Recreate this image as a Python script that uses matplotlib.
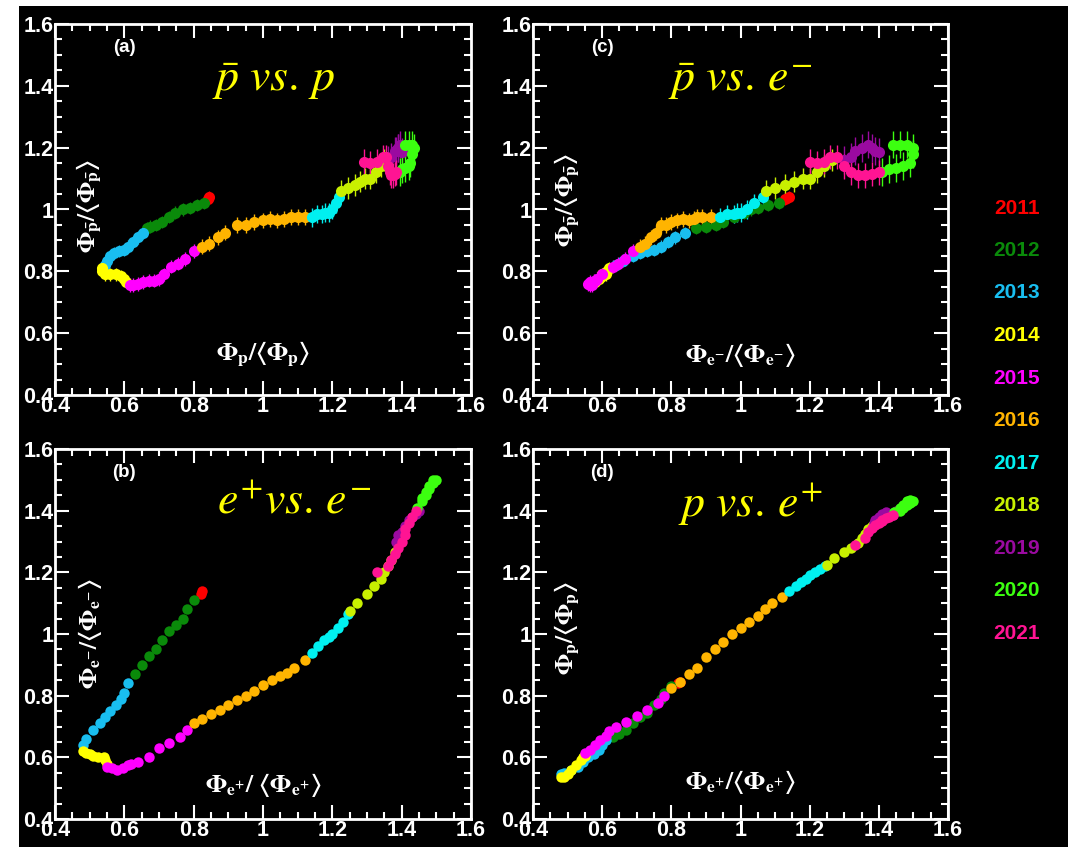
import numpy as np
import matplotlib
matplotlib.use("Agg")
import matplotlib.pyplot as plt
from matplotlib.patches import Rectangle
from matplotlib.ticker import MultipleLocator, FuncFormatter

plt.rcParams['font.family'] = ['Liberation Sans', 'DejaVu Sans']
plt.rcParams['mathtext.fontset'] = 'stix'

years = ['2011', '2012', '2013', '2014', '2015', '2016',
         '2017', '2018', '2019', '2020', '2021']
colors = ['#ff0000', '#0a8a0a', '#19bef0', '#ffff00', '#ff00ff', '#ffb400',
          '#00f0f0', '#c8f000', '#9a0aa0', '#3cff10', '#ff1493']

# normalised fluxes, time ordered inside each year
p_flux = [
    [0.845, 0.84],
    [0.83, 0.81, 0.79, 0.77, 0.745, 0.73, 0.71, 0.69, 0.675, 0.665],
    [0.655, 0.64, 0.625, 0.61, 0.60, 0.585, 0.57, 0.56, 0.55, 0.545],
    [0.535, 0.535, 0.545, 0.56, 0.575, 0.59, 0.60, 0.605],
    [0.615, 0.625, 0.64, 0.655, 0.67, 0.685, 0.70, 0.715, 0.735, 0.755, 0.775, 0.80],
    [0.825, 0.845, 0.87, 0.89, 0.925, 0.95, 0.975, 1.0, 1.02, 1.04, 1.06, 1.08, 1.10, 1.12],
    [1.14, 1.155, 1.17, 1.18, 1.19, 1.20, 1.21, 1.22],
    [1.225, 1.245, 1.265, 1.28, 1.295, 1.31, 1.325, 1.34, 1.35],
    [1.36, 1.37, 1.38, 1.39, 1.395, 1.39, 1.385, 1.40],
    [1.41, 1.42, 1.43, 1.435, 1.43, 1.425, 1.42, 1.41, 1.40, 1.395],
    [1.385, 1.38, 1.375, 1.37, 1.365, 1.36, 1.355, 1.345, 1.33, 1.31, 1.29],
]
pbar_flux = [
    [1.04, 1.035],
    [1.02, 1.015, 1.005, 1.0, 0.99, 0.975, 0.96, 0.95, 0.945, 0.94],
    [0.925, 0.91, 0.895, 0.88, 0.87, 0.865, 0.86, 0.85, 0.835, 0.82],
    [0.81, 0.80, 0.79, 0.79, 0.79, 0.785, 0.775, 0.765],
    [0.755, 0.755, 0.76, 0.765, 0.77, 0.77, 0.775, 0.79, 0.815, 0.825, 0.84, 0.865],
    [0.88, 0.89, 0.91, 0.925, 0.95, 0.95, 0.96, 0.965, 0.97, 0.965, 0.97, 0.975, 0.975, 0.975],
    [0.975, 0.985, 0.985, 0.99, 0.99, 1.0, 1.02, 1.04],
    [1.06, 1.07, 1.08, 1.09, 1.10, 1.10, 1.12, 1.14, 1.16],
    [1.16, 1.17, 1.19, 1.20, 1.21, 1.20, 1.19, 1.185],
    [1.21, 1.21, 1.21, 1.20, 1.18, 1.15, 1.14, 1.135, 1.13, 1.12],
    [1.12, 1.115, 1.11, 1.11, 1.12, 1.14, 1.17, 1.17, 1.155, 1.15, 1.155],
]
ep_flux = [
    [0.825, 0.82],
    [0.80, 0.78, 0.77, 0.75, 0.73, 0.71, 0.69, 0.67, 0.65, 0.63],
    [0.61, 0.60, 0.59, 0.575, 0.56, 0.545, 0.53, 0.51, 0.49, 0.48],
    [0.48, 0.49, 0.50, 0.51, 0.525, 0.54, 0.545, 0.55],
    [0.55, 0.565, 0.58, 0.595, 0.61, 0.62, 0.64, 0.67, 0.70, 0.73, 0.76, 0.78],
    [0.80, 0.825, 0.85, 0.875, 0.90, 0.925, 0.95, 0.975, 1.0, 1.025, 1.05, 1.07, 1.09, 1.12],
    [1.14, 1.16, 1.175, 1.19, 1.20, 1.215, 1.23, 1.245],
    [1.25, 1.27, 1.30, 1.32, 1.34, 1.35, 1.36, 1.37, 1.38],
    [1.385, 1.39, 1.40, 1.41, 1.42, 1.43, 1.44, 1.45],
    [1.46, 1.47, 1.48, 1.49, 1.50, 1.49, 1.48, 1.47, 1.46, 1.445],
    [1.44, 1.43, 1.42, 1.41, 1.41, 1.40, 1.39, 1.38, 1.37, 1.36, 1.33],
]
em_flux = [
    [1.14, 1.13],
    [1.11, 1.08, 1.05, 1.03, 1.01, 0.98, 0.95, 0.93, 0.90, 0.87],
    [0.84, 0.81, 0.79, 0.77, 0.75, 0.73, 0.71, 0.69, 0.66, 0.64],
    [0.62, 0.615, 0.61, 0.605, 0.60, 0.60, 0.59, 0.58],
    [0.57, 0.565, 0.56, 0.565, 0.575, 0.58, 0.585, 0.60, 0.63, 0.645, 0.665, 0.69],
    [0.71, 0.725, 0.74, 0.755, 0.77, 0.785, 0.80, 0.815, 0.835, 0.85, 0.865, 0.875, 0.89, 0.915],
    [0.94, 0.96, 0.98, 0.99, 1.0, 1.02, 1.04, 1.065],
    [1.075, 1.10, 1.13, 1.155, 1.18, 1.20, 1.22, 1.24, 1.265],
    [1.30, 1.32, 1.33, 1.35, 1.37, 1.38, 1.39, 1.40],
    [1.44, 1.46, 1.48, 1.50, 1.50, 1.49, 1.47, 1.45, 1.43, 1.41],
    [1.40, 1.38, 1.36, 1.34, 1.32, 1.30, 1.28, 1.26, 1.24, 1.22, 1.20],
]
# antiproton error per year
pbar_err = [0.02, 0.02, 0.02, 0.02, 0.022, 0.025, 0.03, 0.035, 0.045, 0.045, 0.04]

fig = plt.figure(figsize=(10.68, 8.47), dpi=100, facecolor='white')
fig.patches.append(Rectangle((19 / 1068, 0), 1, 841 / 847, transform=fig.transFigure,
                             facecolor='black', edgecolor='none', zorder=-10))

W, H = 1068, 847
def box(l, r, t, b):
    return [l / W, (H - b) / H, (r - l) / W, (b - t) / H]

panels = [
    # (position, x, y, with errors, tag, title, title pos, xlabel, xlabel pos, ylabel, ylabel pos)
    (box(55, 471, 24, 395), p_flux, pbar_flux, True, '(a)',
     r'$\bar{p}\ vs.\,p$', (1.03, 1.42),
     r'$\mathbf{\Phi_{p}/\langle\Phi_{p}\rangle}$', (1.0, 0.53),
     r'$\mathbf{\Phi_{\bar{p}}/\langle\Phi_{\bar{p}}\rangle}$', (0.5, 1.01)),
    (box(55, 471, 449, 819), ep_flux, em_flux, False, '(b)',
     r'$e^{+}vs.\,e^{-}$', (1.09, 1.43),
     r'$\mathbf{\Phi_{e^{+}}/\ \langle\Phi_{e^{+}}\rangle}$', (1.0, 0.51),
     r'$\mathbf{\Phi_{e^{-}}/\langle\Phi_{e^{-}}\rangle}$', (0.5, 1.0)),
    (box(533, 948, 24, 395), em_flux, pbar_flux, True, '(c)',
     r'$\bar{p}\ vs.\,e^{-}$', (1.0, 1.42),
     r'$\mathbf{\Phi_{e^{-}}/\langle\Phi_{e^{-}}\rangle}$', (1.0, 0.53),
     r'$\mathbf{\Phi_{\bar{p}}/\langle\Phi_{\bar{p}}\rangle}$', (0.5, 1.03)),
    (box(533, 948, 449, 819), ep_flux, p_flux, False, '(d)',
     r'$p\ vs.\,e^{+}$', (1.03, 1.42),
     r'$\mathbf{\Phi_{e^{+}}/\langle\Phi_{e^{+}}\rangle}$', (1.0, 0.52),
     r'$\mathbf{\Phi_{p}/\langle\Phi_{p}\rangle}$', (0.5, 1.02)),
]

fmt = FuncFormatter(lambda v, pos: ('%g' % round(v, 2)))

for pos, xs, ys, with_err, tag, title, tpos, xl, xlpos, yl, ylpos in panels:
    ax = fig.add_axes(pos)
    ax.set_facecolor('black')
    for i in range(len(years)):
        if with_err:
            ax.errorbar(xs[i], ys[i], yerr=pbar_err[i], fmt='o', ms=8, color=colors[i],
                        ecolor=colors[i], elinewidth=1.0, capsize=0, mew=0)
        else:
            ax.plot(xs[i], ys[i], 'o', ms=7.5, color=colors[i], mew=0)
    ax.set_xlim(0.4, 1.6)
    ax.set_ylim(0.4, 1.6)
    ax.xaxis.set_major_locator(MultipleLocator(0.2))
    ax.yaxis.set_major_locator(MultipleLocator(0.2))
    ax.xaxis.set_minor_locator(MultipleLocator(0.05))
    ax.yaxis.set_minor_locator(MultipleLocator(0.05))
    ax.xaxis.set_major_formatter(fmt)
    ax.yaxis.set_major_formatter(fmt)
    ax.tick_params(which='both', direction='in', top=True, right=True, color='white')
    ax.tick_params(which='major', length=10, width=1.5, labelsize=15.5, labelcolor='white', pad=1)
    ax.tick_params(which='minor', length=5, width=1.5)
    for lab in ax.get_xticklabels() + ax.get_yticklabels():
        lab.set_fontweight('bold')
    for s in ax.spines.values():
        s.set_color('white')
        s.set_linewidth(2)
    ax.text(0.6, 1.525, tag, color='white', fontsize=13.5, fontweight='bold',
            ha='center', va='center')
    ax.text(tpos[0], tpos[1], title, color='#ffff00', fontsize=33, ha='center', va='center')
    ax.text(xlpos[0], xlpos[1], xl, color='white', fontsize=18, ha='center', va='center')
    ax.text(ylpos[0], ylpos[1], yl, color='white', fontsize=18, ha='center', va='center',
            rotation=90)

# year legend on the right
for i, yr in enumerate(years):
    fig.text(1017 / W, 1 - (208 + i * 42.5) / H, yr, color=colors[i], fontsize=15,
             fontweight='bold', ha='center', va='center')

fig.savefig('out.png', dpi=100, facecolor=fig.get_facecolor())
